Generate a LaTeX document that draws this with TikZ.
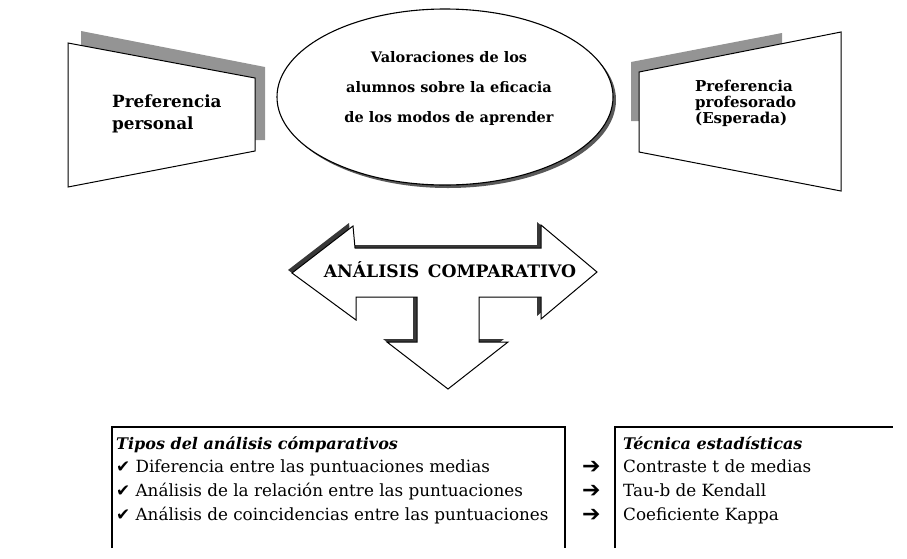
\documentclass[tikz,border=0pt]{standalone}
\usepackage{fontspec}
\setmainfont{DejaVu Serif}
\newfontfamily\symfont{DejaVu Sans}
\begin{document}
\begin{tikzpicture}[x=1pt,y=-1pt,
  shade3d/.style={fill=black!42,draw=none},
  darkshade/.style={fill=black!78,draw=none},
  face/.style={fill=white,draw=black,line width=1pt,line join=miter},
  txt/.style={inner sep=0pt,anchor=base west},
  ctxt/.style={inner sep=0pt,anchor=base},
  boxline/.style={draw=black,line width=1.2pt},
  hdr/.style={font=\bfseries\itshape\fontsize{16}{20}\selectfont},
  rowtxt/.style={font=\fontsize{16.8}{20}\selectfont},
  sym/.style={font=\symfont\fontsize{22}{24}\selectfont},
]
\useasboundingbox (0,0) rectangle (907,558);

% ---- left trapezoid ----
\fill[shade3d] (81,31) -- (265,67) -- (265,140) -- (255,140) -- (255,78) -- (81,45.4) -- cycle;
\draw[face] (68,43) -- (255,78) -- (255,151) -- (68,187) -- cycle;
\node[txt,font=\bfseries\fontsize{16.8}{18}\selectfont] (pp1) at (112,107) {Preferencia};
\node[txt,font=\bfseries\fontsize{16.8}{18}\selectfont] (pp2) at (112,129) {personal};

% ---- right trapezoid ----
\fill[shade3d] (631,62) -- (782,33) -- (782,43.7) -- (639,72) -- (639,121) -- (631,121) -- cycle;
\draw[face] (639,72) -- (841,32) -- (841,191) -- (639,152) -- cycle;
\node[txt,font=\bfseries\fontsize{15}{16}\selectfont] (pf1) at (695,91) {Preferencia};
\node[txt,font=\bfseries\fontsize{15}{16}\selectfont] (pf2) at (695,107) {profesorado};
\node[txt,font=\bfseries\fontsize{15}{16}\selectfont] (pf3) at (695,123) {(Esperada)};

% ---- ellipse ----
\fill[black!65] (448,100) ellipse [x radius=168pt, y radius=88pt];
\draw[fill=white,line width=1.1pt] (445,97) ellipse [x radius=168pt, y radius=88pt];
\node[ctxt,font=\bfseries\fontsize{14.5}{16}\selectfont] (v1) at (449,62) {Valoraciones de los};
\node[ctxt,font=\bfseries\fontsize{14.5}{16}\selectfont] (v2) at (449,92) {alumnos sobre la eficacia};
\node[ctxt,font=\bfseries\fontsize{14.5}{16}\selectfont] (v3) at (449,122) {de los modos de aprender};

% ---- big three-way arrow ----
\begin{scope}[shift={(-4,-3)}]
\fill[darkshade] (292,273) -- (353,226) -- (355,248) -- (541,248) -- (541,225) -- (597,272)
  -- (541,319) -- (541,297) -- (479,297) -- (479,342) -- (508,342) -- (448,389)
  -- (387,342) -- (417,342) -- (417,297) -- (356,297) -- (356,320) -- cycle;
\end{scope}
\draw[face] (292,273) -- (353,226) -- (355,248) -- (541,248) -- (541,225) -- (597,272)
  -- (541,319) -- (541,297) -- (479,297) -- (479,342) -- (508,342) -- (448,389)
  -- (387,342) -- (417,342) -- (417,297) -- (356,297) -- (356,320) -- cycle;
\node[ctxt,font=\bfseries\fontsize{17.2}{20}\selectfont] (ac) at (450,277) {ANÁLISIS\hspace{0.5em}COMPARATIVO};

% ---- bottom table ----
\draw[boxline] (112,548) -- (112,427) -- (565,427) -- (565,548);
\node[txt,hdr] (th) at (116,449) {Tipos del análisis cómparativos};
\node[txt,rowtxt] (r1) at (116,472) {{\symfont ✔}\ Diferencia entre las puntuaciones medias};
\node[txt,rowtxt] (r2) at (116,496) {{\symfont ✔}\ Análisis de la relación entre las puntuaciones};
\node[txt,rowtxt] (r3) at (116,520) {{\symfont ✔}\ Análisis de coincidencias entre las puntuaciones};

\node[txt,sym] (a1) at (582,473) {➔};
\node[txt,sym] (a2) at (582,497) {➔};
\node[txt,sym] (a3) at (582,521) {➔};

\draw[boxline] (615,548) -- (615,427) -- (893,427);
\node[txt,hdr] (tt) at (623,449) {Técnica estadísticas};
\node[txt,rowtxt] (s1) at (623,472) {Contraste t de medias};
\node[txt,rowtxt] (s2) at (623,496) {Tau-b de Kendall};
\node[txt,rowtxt] (s3) at (623,520) {Coeficiente Kappa};
\end{tikzpicture}
\end{document}
